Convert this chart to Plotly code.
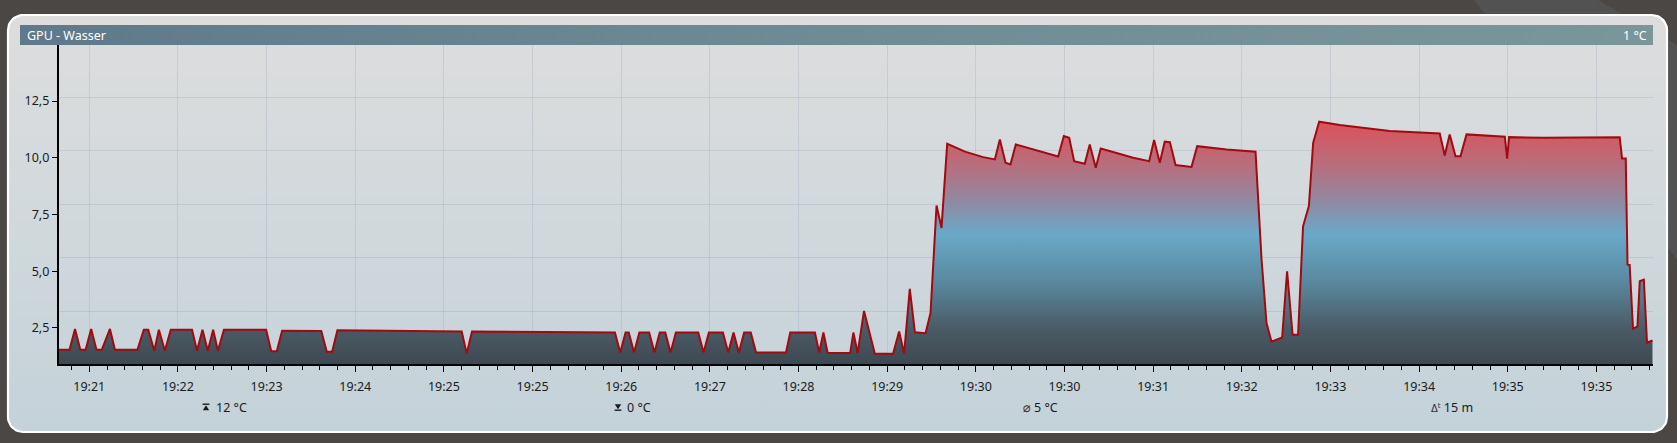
import numpy as np
import pandas as pd
import plotly.graph_objects as go

# Messreihe GPU-Wassertemperatur (Sekunden ab Aufzeichnungsstart, Wert in °C)
START = "2024-01-01 19:21:22.75"
END = "2024-01-01 19:36:21.75"
OFFSETS_S = [
    0, 6.1, 9.2, 12.2, 15.2, 18.3, 21.3, 24.3, 28.9, 31.7, 44.4, 48.0, 50.5, 53.9,
    56.5, 59.9, 63.2, 75.2, 78.0, 81.1, 84.1, 87.1, 89.8, 93.2, 117.0, 119.9, 123.0,
    126.0, 148.1, 151.2, 154.2, 157.2, 227.3, 230.1, 233.1, 311.9,
    313.7, 316.7, 319.7, 321.5, 324.5, 327.5, 333.0, 336.0, 339.0, 342.1, 345.1,
    348.1, 360.7, 363.7, 366.7, 374.6, 377.6, 380.6, 383.6, 386.6, 390.3, 393.3,
    410.2, 412.6, 426.5, 428.9, 431.3, 433.7, 446.4, 448.2, 450.6, 454.2, 460.3,
    470.6, 474.0, 476.8, 480.0, 482.9, 488.9, 491.7, 495.1, 497.9, 501.1, 506.4,
    511.1, 521.4, 528.0, 530.8, 534.0, 536.8, 539.8, 563.7, 566.9, 569.9, 572.7,
    578.7, 581.5, 584.9, 587.7, 606.0, 615.0, 617.8, 621.0, 623.8, 626.7, 629.9,
    638.9, 642.1, 658.7, 675.0, 678.4, 681.2, 684.0, 690.0, 692.8, 695.9, 699.0,
    701.8, 705.1, 707.5, 710.9, 722.5, 750.7, 778.9, 781.7, 784.5, 787.8, 790.6,
    794.0, 815.6, 816.9, 818.0, 837.2, 880.4, 881.7, 883.8, 884.8, 886.0, 887.9,
    890.4, 891.7, 894.0, 895.8, 899.0,
]
TEMPS_C = [
    1.54, 1.54, 2.46, 1.54, 1.54, 2.46, 1.54, 1.54, 2.46, 1.54, 1.54, 2.42, 2.42, 1.50,
    2.42, 1.50, 2.42, 2.42, 1.50, 2.42, 1.50, 2.42, 1.50, 2.42, 2.42, 1.47, 1.47,
    2.38, 2.37, 1.45, 1.45, 2.40, 2.35, 1.37, 2.35, 2.32,
    2.30, 1.42, 2.30, 2.30, 1.42, 2.30, 2.30, 1.42, 2.30, 2.30, 1.42,
    2.30, 2.30, 1.42, 2.30, 2.30, 1.42, 2.30, 1.42, 2.30, 2.30, 1.42,
    1.42, 2.30, 2.30, 1.42, 2.30, 1.40, 1.40, 2.30, 1.40, 3.25, 1.37,
    1.37, 2.35, 1.37, 4.22, 2.31, 2.27, 3.16, 7.90, 6.91, 10.62, 10.44,
    10.27, 10.03, 9.93, 10.81, 9.78, 9.71, 10.59, 10.06, 10.96, 10.88, 9.85,
    9.74, 10.59, 9.56, 10.41, 10.00, 9.85, 10.78, 9.78, 10.71, 10.69, 9.68,
    9.60, 10.51, 10.37, 10.27, 5.51, 2.72, 1.90, 2.08, 5.00, 2.20, 2.20,
    6.98, 7.87, 10.66, 11.59, 11.44, 11.18, 11.07, 10.10, 11.03, 10.07, 10.07,
    11.03, 10.93, 9.96, 10.91, 10.88, 10.91, 9.97, 9.97, 5.29, 5.28, 2.47,
    2.57, 4.56, 4.63, 1.86, 1.95,
]

TITLE = "GPU - Wasser"
CURRENT = "1 °C"
# Kennzahlen unten: Max, Min, Mittel, Dauer (Max/Min-Symbol wird als Form gezeichnet)
STAT_ICONS = ["", "", "⌀", "Δ<sup>t</sup>"]
STAT_TEXTS = ["12 °C", "0 °C", "5 °C", "15 m"]

# Seitenmaße in Pixel
W, H = 1677, 443
PLOT_L, PLOT_R, PLOT_T, PLOT_B = 58.7, 1652.7, 45, 364.3
Y_MIN, Y_MAX = 0.9, 14.97
GRID_Y = [3.23, 5.6, 7.94, 10.32, 12.65]   # Gitterlinien liegen leicht versetzt zu den Ticks
STAT_X = [214, 625, 1021, 1429]             # linke Kante der Kennzahlen
ICON_X = [206, 618]                         # Mitte der Max/Min-Symbole
ICON_SIZE = [0, 0, 13, 10]

FONT = "Noto Sans"
GRID = "rgba(110,110,170,0.16)"


def rounded_rect(x0, y0, x1, y1, r, n=14):
    """Punkte eines abgerundeten Rechtecks (Pixelkoordinaten, y nach unten)."""
    xs, ys = [], []
    for cx, cy, a0 in [(x1 - r, y0 + r, -90), (x1 - r, y1 - r, 0),
                       (x0 + r, y1 - r, 90), (x0 + r, y0 + r, 180)]:
        a = np.radians(np.linspace(a0, a0 + 90, n))
        xs += list(cx + r * np.cos(a))
        ys += list(cy + r * np.sin(a))
    return xs + [xs[0]], ys + [ys[0]]


times = pd.Timestamp(START) + pd.to_timedelta(OFFSETS_S, unit="s")

fig = go.Figure()

# Karte mit Verlauf
cx, cy = rounded_rect(8, 15, 1667, 432, 15)
fig.add_trace(go.Scatter(
    x=cx, y=cy, mode="lines", fill="toself", hoverinfo="skip", showlegend=False,
    line=dict(color="white", width=2.2),
    fillgradient=dict(type="vertical", start=15, stop=432,
                      colorscale=[[0, "#dddddd"], [0.45, "#d2d9dc"], [1, "#c3d2d9"]]),
))

# Titelleiste
fig.add_trace(go.Scatter(
    x=[20, 1653, 1653, 20, 20], y=[25, 25, 45, 45, 25], mode="lines", fill="toself",
    hoverinfo="skip", showlegend=False, line=dict(width=0),
    fillgradient=dict(type="horizontal", start=20, stop=1653,
                      colorscale=[[0, "#5f798a"], [0.5, "#6f8c95"], [1, "#7a9699"]]),
))

# Temperaturverlauf
fig.add_trace(go.Scatter(
    x=times, y=TEMPS_C, xaxis="x2", yaxis="y2", mode="lines", name=TITLE,
    line=dict(color="#a00a10", width=2),
    fill="tozeroy",
    fillgradient=dict(type="vertical", start=Y_MIN, stop=11.6,
                      colorscale=[[0, "#3e4850"], [0.15, "#4a5b66"], [0.34, "#5a889e"],
                                  [0.54, "#69a9c8"], [0.65, "#8a8ea8"], [0.8, "#b27282"],
                                  [1, "#dc525a"]]),
    showlegend=False,
))
# Spur für die Gitter-Achse (unsichtbar)
fig.add_trace(go.Scatter(x=[times[0]], y=[Y_MIN], xaxis="x2", yaxis="y3",
                         mode="markers", marker=dict(opacity=0), hoverinfo="skip",
                         showlegend=False))

annotations = [
    dict(x=25, y=35, text=TITLE, xanchor="left", font=dict(color="white", size=12.5)),
    dict(x=1649, y=35, text=CURRENT, xanchor="right", font=dict(color="white", size=12.5)),
]
for x, icon, size, txt in zip(STAT_X, STAT_ICONS, ICON_SIZE, STAT_TEXTS):
    label = txt
    if icon:
        label = (f"<span style='font-family:DejaVu Sans;font-size:{size}px;color:#333'>"
                 f"{icon}</span> {txt}")
    annotations.append(dict(x=x, y=407, xanchor="left", text=label,
                            font=dict(color="#1b1b1b", size=12.5)))
for a in annotations:
    a.update(xref="x", yref="y", showarrow=False, yanchor="middle")

# Max-/Min-Symbole: Dreieck mit Balken
icon_shapes = []
for ix, up in zip(ICON_X, [True, False]):
    if up:
        bar_y, tip_y, base_y = 404.2, 405.2, 410.2
    else:
        bar_y, tip_y, base_y = 410.2, 409.2, 404.2
    icon_shapes.append(dict(type="path", xref="x", yref="y", fillcolor="#1b1b1b",
                            line=dict(width=0),
                            path=f"M {ix - 3.2} {base_y} L {ix} {tip_y} L {ix + 3.2} {base_y} Z"))
    icon_shapes.append(dict(type="line", xref="x", yref="y", x0=ix - 3.4, x1=ix + 3.4,
                            y0=bar_y, y1=bar_y, line=dict(color="#1b1b1b", width=1.4)))

fig.update_layout(
    width=W, height=H, autosize=False,
    margin=dict(l=0, r=0, t=0, b=0, pad=0),
    paper_bgcolor="#4a4745",
    plot_bgcolor="rgba(0,0,0,0)",
    font=dict(family=FONT, size=12, color="#1b1b1b"),
    separators=",.",
    showlegend=False,
    xaxis=dict(domain=[0, 1], range=[0, W], visible=False, fixedrange=True),
    yaxis=dict(domain=[0, 1], range=[H, 0], visible=False, fixedrange=True),
    xaxis2=dict(
        domain=[PLOT_L / W, PLOT_R / W], anchor="y2", type="date",
        range=[START, END], tick0="2024-01-01 19:21:40", dtick=50000, tickformat="%H:%M",
        ticks="outside", ticklen=6, tickwidth=1.3, tickcolor="black",
        ticklabelstandoff=4,
        showline=True, linecolor="black", linewidth=1.5,
        showgrid=True, gridcolor=GRID, gridwidth=1, zeroline=False,
        minor=dict(dtick=10000, tick0="2024-01-01 19:21:40", ticks="outside",
                   ticklen=4, tickwidth=1.2, tickcolor="black", showgrid=False),
        tickfont=dict(size=12.5, color="#1b1b1b"),
    ),
    yaxis2=dict(
        domain=[(H - PLOT_B) / H, (H - PLOT_T) / H], anchor="x2",
        range=[Y_MIN, Y_MAX], tick0=0, dtick=2.5, tickformat=".1f",
        ticks="outside", ticklen=5, tickwidth=1.3, tickcolor="black",
        showline=True, linecolor="black", linewidth=1.8,
        showgrid=False, zeroline=False,
        tickfont=dict(size=12.5, color="#1b1b1b"),
    ),
    yaxis3=dict(
        overlaying="y2", anchor="x2", range=[Y_MIN, Y_MAX], tickvals=GRID_Y,
        showticklabels=False, ticks="", showgrid=True, gridcolor=GRID,
        zeroline=False, showline=False,
    ),
    annotations=annotations,
    shapes=[dict(type="path", xref="x", yref="y", layer="below", line=dict(width=0),
                 fillcolor="#525253",
                 path="M 1474 0 L 1598 0 L 1677 45 L 1677 260 Z")] + icon_shapes,
)

# Seitenrand entfernen, damit die Grafik genau das Fenster füllt
fig.write_html("out.html", config={"displayModeBar": False},
               post_script="document.body.style.margin='0';"
                           "document.body.style.overflow='hidden';")
